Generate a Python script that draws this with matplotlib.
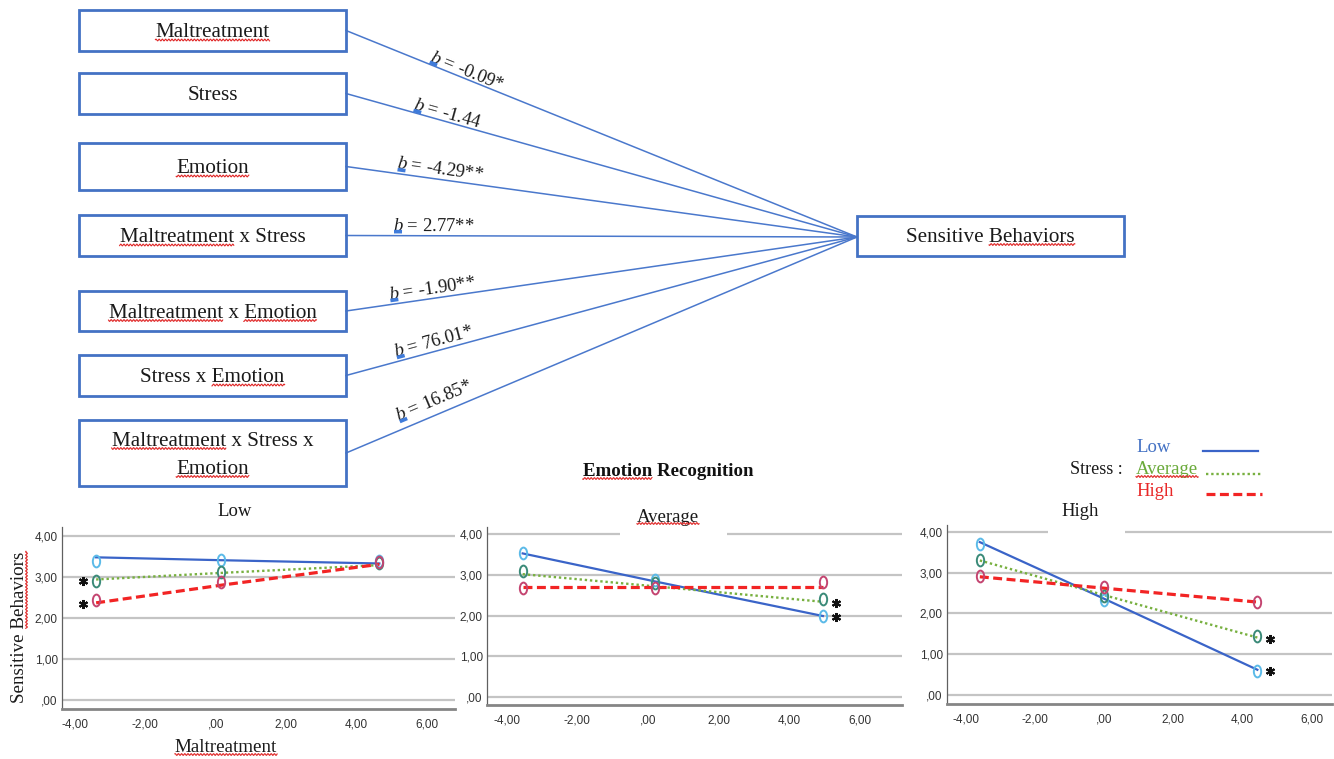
import numpy as np
import matplotlib
matplotlib.use("Agg")
import matplotlib.pyplot as plt
from matplotlib.patches import Rectangle
from matplotlib.path import Path
from matplotlib.transforms import Affine2D

plt.rcParams['mathtext.fontset'] = 'custom'
plt.rcParams['mathtext.rm'] = 'Liberation Serif'
plt.rcParams['mathtext.it'] = 'Liberation Serif:italic'

SERIF = ['Liberation Serif', 'DejaVu Serif']
NARROW = ['Liberation Sans Narrow', 'Liberation Sans', 'DejaVu Sans']

# ---------------- data ----------------
predictors = ["Maltreatment", "Stress", "Emotion", "Maltreatment x Stress",
              "Maltreatment x Emotion", "Stress x Emotion",
              "Maltreatment x Stress x\nEmotion"]
coefficients = ["-0.09*", "-1.44", "-4.29**", "2.77**", "-1.90**", "76.01*", "16.85*"]
outcome = "Sensitive Behaviors"

emotion_levels = ["Low", "Average", "High"]
stress_levels = ["Low", "Average", "High"]

# maltreatment values (x) at which each panel is evaluated
x_low_emotion = [-3.40, 0.15, 4.65]
x_avg_emotion = [-3.55, 0.20, 4.95]
x_high_emotion = [-3.60, 0.00, 4.43]

# fitted simple slopes (line) for stress Low / Average / High
fit_low_emotion = [[3.48, 3.41, 3.33], [2.94, 3.10, 3.29], [2.37, 2.80, 3.31]]
fit_avg_emotion = [[3.53, 2.84, 1.99], [3.02, 2.72, 2.34], [2.71, 2.71, 2.71]]
fit_high_emotion = [[3.75, 2.36, 0.62], [3.30, 2.45, 1.41], [2.90, 2.62, 2.28]]

# point estimates (circle markers)
pts_low_emotion = [[3.39, 3.41, 3.40], [2.91, 3.13, 3.35], [2.44, 2.87, 3.37]]
pts_avg_emotion = [[3.53, 2.87, 1.99], [3.10, 2.81, 2.41], [2.67, 2.69, 2.82]]
pts_high_emotion = [[3.70, 2.32, 0.58], [3.31, 2.44, 1.44], [2.93, 2.65, 2.28]]

# significant simple slopes (stress level index) per panel
significant = [[1, 2], [1, 0], [1, 0]]

y_ticks = [0, 1, 2, 3, 4]
y_ticklabels = [",00", "1,00", "2,00", "3,00", "4,00"]
x_ticks = [-4, -2, 0, 2, 4, 6]
x_ticklabels = ["-4,00", "-2,00", ",00", "2,00", "4,00", "6,00"]

# ---------------- figure ----------------
W, H = 1334, 759
fig = plt.figure(figsize=(W / 100, H / 100), dpi=100)
fig.patch.set_facecolor('white')

line_colors = ['#3A64C8', '#78B040', '#F22424']
marker_colors = ['#5BBAE8', '#3A8A78', '#C44470']
line_styles = ['-', (0, (1.0, 1.2)), (0, (2.8, 1.4))]
line_widths = [1.6, 1.7, 2.3]

ell = Path.unit_circle().transformed(Affine2D().scale(0.62, 1.0))

panels_x = [x_low_emotion, x_avg_emotion, x_high_emotion]
panels_fit = [fit_low_emotion, fit_avg_emotion, fit_high_emotion]
panels_pts = [pts_low_emotion, pts_avg_emotion, pts_high_emotion]

panel_rects = [(62, 455, 527, 709), (487, 902, 527, 705), (947, 1332, 525, 704)]
xlims = [(-4.37, 6.80), (-4.56, 7.19), (-4.55, 6.59)]
ylims = [(-0.22, 4.22), (-0.20, 4.18), (-0.22, 4.17)]
ast_side = [-1, 1, 1]

axes = []
for p in range(3):
    l, r, t, b = panel_rects[p]
    ax = fig.add_axes([l / W, 1 - b / H, (r - l) / W, (b - t) / H])
    axes.append(ax)
    ax.set_xlim(*xlims[p])
    ax.set_ylim(*ylims[p])
    ax.set_yticks(y_ticks)
    ax.set_yticklabels(y_ticklabels, family=NARROW, fontsize=8.5, color='#333333')
    ax.set_xticks(x_ticks)
    ax.set_xticklabels(x_ticklabels, family=NARROW, fontsize=8.5, color='#333333')
    ax.tick_params(length=0)
    ax.tick_params(axis='y', pad=3)
    ax.tick_params(axis='x', pad=7)
    ax.yaxis.grid(True, color='#C4C4C4', lw=1.6)
    ax.set_axisbelow(True)
    for s in ['top', 'right']:
        ax.spines[s].set_visible(False)
    ax.spines['left'].set_color('#606060')
    ax.spines['left'].set_linewidth(0.9)
    ax.spines['bottom'].set_color('#858585')
    ax.spines['bottom'].set_linewidth(2.0)
    xs = panels_x[p]
    for k in range(3):
        ax.plot(xs, panels_fit[p][k], color=line_colors[k], ls=line_styles[k],
                lw=line_widths[k], zorder=3)
    for k in range(3):
        ax.plot(xs, panels_pts[p][k], ls='none', marker=ell, ms=8.5,
                mfc='none', mec=marker_colors[k], mew=1.4, zorder=4)
    # significance asterisks drawn as asterisk markers beside the line ends
    for k in significant[p]:
        end = 0 if ast_side[p] < 0 else -1
        ax.plot([xs[end] + 0.37 * ast_side[p]], [panels_fit[p][k][end] - 0.03],
                ls='none', marker=(6, 2, 0), ms=6.5, mew=1.5, color='#111111', zorder=5)

# ---------------- overlay (path diagram, labels) ----------------
ov = fig.add_axes([0, 0, 1, 1])
ov.set_xlim(0, W)
ov.set_ylim(H, 0)
ov.axis('off')

box_left, box_right = 79, 346
box_tb = [(10, 51), (73, 114), (143, 190), (215, 256), (291, 331), (355, 396), (420, 486)]
out_box = (857, 1124, 216, 256)
target = (857, 237)
BOXC = '#4472C4'
LINEC = '#4A78CC'

label_x = [428, 412, 396, 393, 390, 397, 402]
label_off = [3, 3, 5, 5, 5, 5, 9]

squiggles = []  # (text_obj, word, vertical)
for i, (tp, bt) in enumerate(box_tb):
    ov.add_patch(Rectangle((box_left, tp), box_right - box_left, bt - tp,
                           fill=False, ec=BOXC, lw=2.0, zorder=3))
    yc = (tp + bt) / 2
    lines = predictors[i].split("\n")
    n = len(lines)
    for j, ln in enumerate(lines):
        yy = yc + (j - (n - 1) / 2) * 28
        tobj = ov.text((box_left + box_right) / 2, yy + 2, ln, ha='center', va='center',
                       fontsize=15.2, family=SERIF, color='#1A1A1A', zorder=4)
        for wd in ["Maltreatment", "Emotion"]:
            if wd in ln:
                squiggles.append((tobj, wd, False))
    # path line
    x0, y0 = box_right, yc
    x1, y1 = target
    ov.plot([x0, x1], [y0, y1], color=LINEC, lw=1.1, zorder=2)
    dx, dy = x1 - x0, y1 - y0
    L = np.hypot(dx, dy)
    ux, uy = dx / L, dy / L
    nx, ny = uy, -ux
    tx = label_x[i]
    ty = y0 + (tx - x0) * dy / dx
    px, py = tx + label_off[i] * nx, ty + label_off[i] * ny
    ang = np.degrees(np.arctan2(-dy, dx))
    ov.text(px, py, r"$b$ = " + coefficients[i], rotation=ang, rotation_mode='anchor',
            ha='left', va='baseline', fontsize=13.4, family=SERIF, color='#1A1A1A', zorder=4)
    # blue mark under b
    bx0, by0 = px - 1 * nx + 1 * ux, py - 1 * ny + 1 * uy
    ov.plot([bx0, bx0 + 8 * ux], [by0, by0 + 8 * uy], color='#3F7BDA', lw=2.6,
            solid_capstyle='butt', zorder=4)

ol, orr, ot, ob = out_box
ov.add_patch(Rectangle((ol, ot), orr - ol, ob - ot, fill=False, ec=BOXC, lw=2.0, zorder=3))
t_out = ov.text((ol + orr) / 2, (ot + ob) / 2 + 1, outcome, ha='center', va='center',
                fontsize=15.2, family=SERIF, color='#1A1A1A', zorder=4)
squiggles.append((t_out, "Behaviors", False))

# panel titles
title_pos = [(235, 512), (668, 517), (1080, 512)]
for p in range(3):
    tt = ov.text(title_pos[p][0], title_pos[p][1], emotion_levels[p], ha='center', va='center',
                 fontsize=13.5, family=SERIF, color='#1A1A1A', zorder=6)
    if emotion_levels[p] == "Average":
        squiggles.append((tt, "Average", False))
# white gaps in top gridline below titles
ov.add_patch(Rectangle((620, 530), 107, 8, fc='white', ec='none', zorder=5))
ov.add_patch(Rectangle((1048, 530), 77, 8, fc='white', ec='none', zorder=5))

t_er = ov.text(668, 472, "Emotion Recognition", ha='center', va='center', fontsize=13.6,
               family=SERIF, weight='bold', color='#111111', zorder=6)
squiggles.append((t_er, "Emotion", False))

t_yl = ov.text(20, 627, "Sensitive Behaviors", ha='center', va='center', rotation=90,
               fontsize=13.7, family=SERIF, color='#1A1A1A', zorder=6)
squiggles.append((t_yl, "Behaviors", True))
t_xl = ov.text(226, 748, "Maltreatment", ha='center', va='center', fontsize=13.7,
               family=SERIF, color='#1A1A1A', zorder=6)
squiggles.append((t_xl, "Maltreatment", False))

# legend
ov.text(1096, 470, "Stress :", ha='center', va='center', fontsize=13, family=SERIF,
        color='#1A1A1A', zorder=6)
leg_y = [448, 470, 492]
leg_line_y = [451, 474, 494]
leg_line_x = [(1203, 1258), (1206, 1262), (1206, 1262)]
for k in range(3):
    tl = ov.text(1136, leg_y[k], stress_levels[k], ha='left', va='center', fontsize=13.5,
                 family=SERIF, color=['#4472C4', '#6AAA3A', '#E82828'][k], zorder=6)
    if stress_levels[k] == "Average":
        squiggles.append((tl, "Average", False))
    ov.plot(leg_line_x[k], [leg_line_y[k]] * 2, color=line_colors[k], ls=line_styles[k],
            lw=line_widths[k], zorder=6)

# ---------------- spell-check squiggles ----------------
fig.canvas.draw()
renderer = fig.canvas.get_renderer()


def text_width(sub, tobj):
    tmp = ov.text(0, 0, sub, fontproperties=tobj.get_fontproperties())
    w = tmp.get_window_extent(renderer).width
    tmp.remove()
    return w


for tobj, word, vertical in squiggles:
    s = tobj.get_text()
    idx = s.index(word)
    bb = tobj.get_window_extent(renderer)
    w_end = text_width(s[:idx + len(word)], tobj)
    w_word = text_width(word, tobj)
    if not vertical:
        a = bb.x0 + w_end - w_word
        b = bb.x0 + w_end
        xs = np.linspace(a, b, int((b - a) * 2) + 2)
        base = H - (bb.y0 + 2.0)
        ys = base + 0.9 * np.sin(2 * np.pi * xs / 3.2)
        ov.plot(xs, ys, color='#E02A2A', lw=0.8, zorder=7)
    else:
        a = bb.y0 + w_end - w_word
        b = bb.y0 + w_end
        yd = np.linspace(a, b, int((b - a) * 2) + 2)
        base = bb.x1 - 2.0
        xs = base + 0.9 * np.sin(2 * np.pi * yd / 3.2)
        ov.plot(xs, H - yd, color='#E02A2A', lw=0.8, zorder=7)

fig.savefig("out.png", dpi=100, facecolor='white')
